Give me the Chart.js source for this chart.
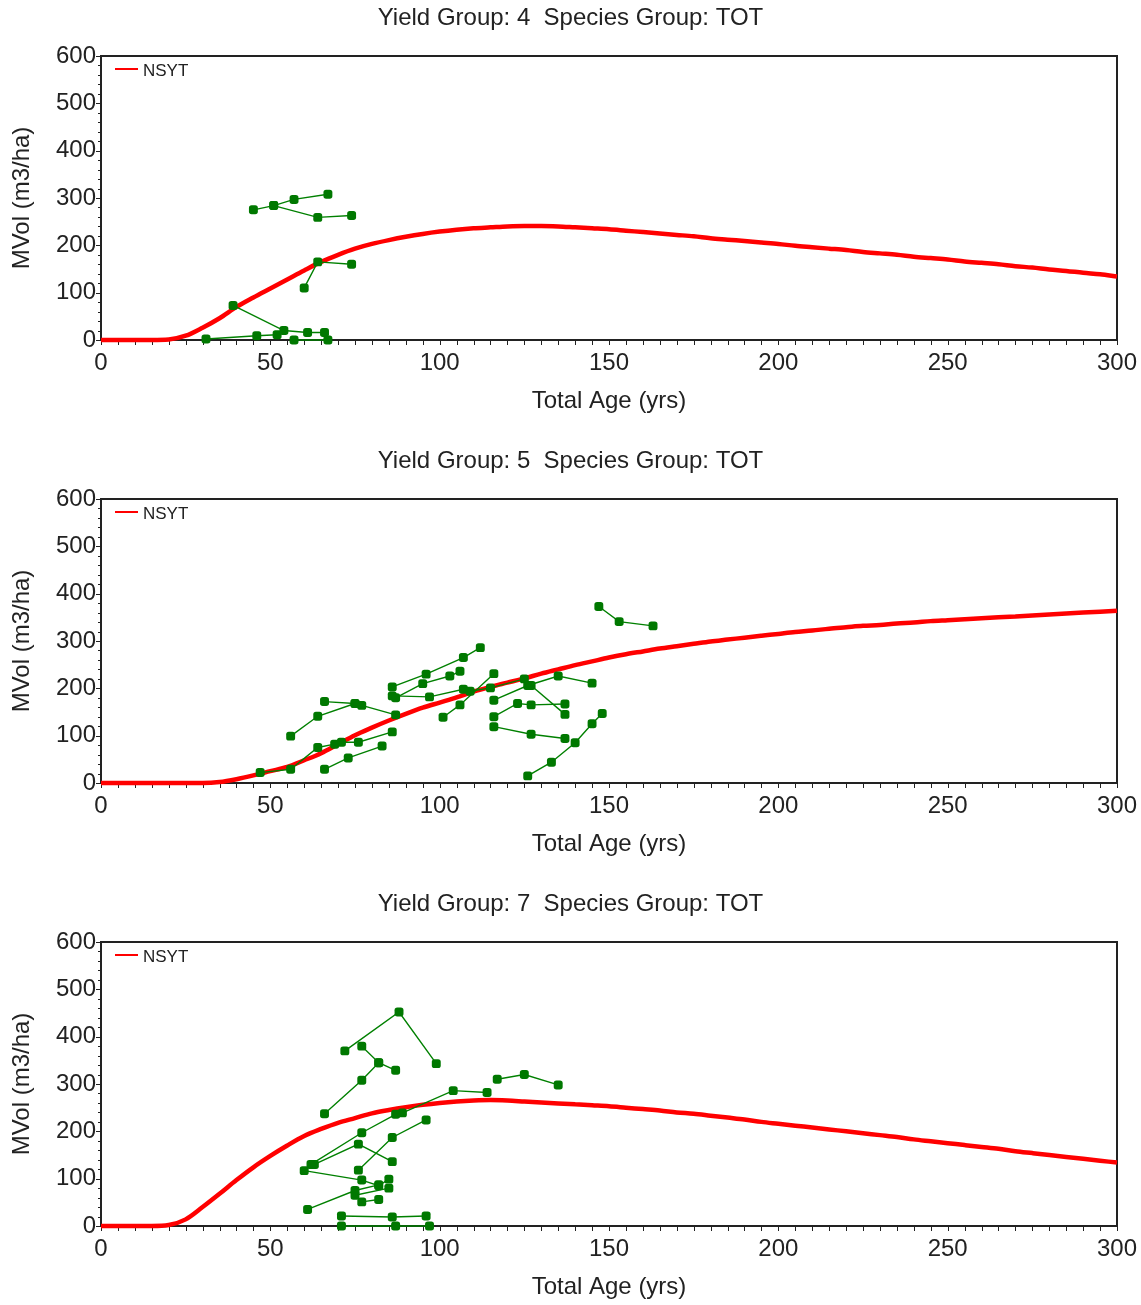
<!DOCTYPE html>
<html>
<head>
<meta charset="utf-8">
<script src="https://cdn.jsdelivr.net/npm/chart.js@4.4.1/dist/chart.umd.min.js"></script>
<style>
  html, body { margin: 0; padding: 0; background: #fff; overflow: hidden; }
  .panel { position: absolute; left: 0; width: 1141px; height: 443px; }
</style>
</head>
<body>
<div class="panel" style="top:0px"><canvas id="c4"></canvas></div>
<div class="panel" style="top:443px"><canvas id="c5"></canvas></div>
<div class="panel" style="top:886px"><canvas id="c7"></canvas></div>
<script>
// ---- Data ----
const groups = ['4', '5', '7'];
const speciesGroup = 'TOT';
const xTicks = [0, 50, 100, 150, 200, 250, 300];
const yTicks = [0, 100, 200, 300, 400, 500, 600];

// NSYT yield curve: total age (yrs) and MVol (m3/ha)
const ages = [0,5,10,15,20,25,30,35,40,45,50,55,60,65,70,75,80,85,90,95,100,105,110,115,120,125,130,135,140,145,150,155,160,165,170,175,180,185,190,195,200,205,210,215,220,225,230,235,240,245,250,255,260,265,270,275,280,285,290,295,300];
const nsyt4 = [0,0,0,0,1,9,26,46,70,90,109,128,147,165,180,193,203,211,218,224,229,233,236,238,240,241,241,240,238,236,234,231,228,225,222,219,215,212,209,206,203,199,196,193,190,186,183,180,176,173,170,166,163,160,156,153,149,146,142,139,134];
const nsyt5 = [0,0,0,0,0,0,0,2,8,16,25,34,48,63,82,101,117,132,146,159,170,181,193,203,212,221,231,240,249,257,265,272,278,284,289,294,299,303,307,311,315,319,322,326,329,332,334,337,339,342,344,346,348,350,352,354,356,358,360,362,364];
const nsyt7 = [0,0,0,0,2,14,40,68,97,124,148,170,190,205,218,228,238,245,251,256,260,263,265,266,265,263,261,259,257,255,253,250,247,244,240,237,233,229,225,220,216,212,208,204,200,196,192,188,183,179,175,171,167,163,158,154,150,146,142,138,134];

// Observed plot remeasurements [age, MVol]
const obs4 = [
  [[45,275],[51,284],[57,297],[67,308]],
  [[51,284],[64,259],[74,263]],
  [[60,110],[64,165],[74,160]],
  [[39,73],[54,20],[61,16],[66,16]],
  [[31,2],[46,9],[52,11]],
  [[57,0],[67,0]]
];
const obs5 = [
  [[56,99],[64,141],[75,168]],
  [[66,172],[75,168],[77,164],[87,144]],
  [[47,22],[56,29],[64,75],[69,82]],
  [[71,86],[76,86],[86,108]],
  [[66,29],[73,53],[83,78]],
  [[86,203],[96,230],[107,265],[112,286]],
  [[87,180],[95,210],[103,226],[106,236]],
  [[86,184],[97,182],[107,198],[109,194],[115,201],[125,220]],
  [[101,139],[106,165],[116,231]],
  [[116,175],[126,206],[135,226],[145,211]],
  [[127,206],[137,145]],
  [[116,140],[123,168],[127,165],[137,167]],
  [[116,119],[127,103],[137,94]],
  [[126,15],[133,44],[140,85],[145,125],[148,147]],
  [[147,373],[153,341],[163,332]]
];
const obs7 = [
  [[72,370],[88,452],[99,343]],
  [[77,380],[82,345],[87,329]],
  [[66,237],[77,308],[82,345]],
  [[62,130],[77,197],[87,236]],
  [[89,239],[104,286],[114,282]],
  [[117,310],[125,320],[135,298]],
  [[63,130],[76,173],[86,136]],
  [[76,118],[86,187],[96,224]],
  [[60,117],[77,97],[82,85],[85,99]],
  [[61,35],[75,75],[82,87]],
  [[75,65],[85,80]],
  [[77,51],[82,56]],
  [[71,21],[86,19],[96,21]],
  [[71,0],[87,0],[97,0]]
];

// ---- Rendering ----
const FONT = "'Liberation Sans', Arial, Helvetica, sans-serif";
const INK = '#222222';
Chart.defaults.font.family = FONT;

const decor = {
  id: 'decor',
  beforeDatasetsDraw(chart) {
    const { ctx, chartArea: a, scales: { x, y } } = chart;
    ctx.save();
    ctx.strokeStyle = INK;
    ctx.lineWidth = 2;
    ctx.strokeRect(a.left, a.top, a.right - a.left, a.bottom - a.top);
    ctx.lineWidth = 1;
    ctx.beginPath();
    for (let v = x.min; v <= x.max; v += 5) {
      const px = Math.round(x.getPixelForValue(v)) + 0.5;
      ctx.moveTo(px, a.bottom);
      ctx.lineTo(px, a.bottom + 5);
    }
    for (let v = y.min; v <= y.max; v += 20) {
      const py = Math.round(y.getPixelForValue(v)) + 0.5;
      const len = v % 100 === 0 ? 5 : 3;
      ctx.moveTo(a.left, py);
      ctx.lineTo(a.left - len, py);
    }
    ctx.stroke();
    ctx.restore();
  },
  afterDatasetsDraw(chart) {
    const { ctx, chartArea: a } = chart;
    const ds = chart.data.datasets[0];
    ctx.save();
    ctx.strokeStyle = ds.borderColor;
    ctx.lineWidth = 2;
    ctx.beginPath();
    ctx.moveTo(a.left + 14, a.top + 13);
    ctx.lineTo(a.left + 37, a.top + 13);
    ctx.stroke();
    ctx.fillStyle = INK;
    ctx.font = '17px ' + FONT;
    ctx.textBaseline = 'middle';
    ctx.fillText(ds.label, a.left + 42, a.top + 15);
    // chart title, centred on the full canvas width
    ctx.font = '24px ' + FONT;
    ctx.textAlign = 'center';
    ctx.fillText(chart.options.chartTitle, chart.width / 2, 18);
    ctx.restore();
  }
};

function makeChart(id, group, nsyt, obs) {
  const datasets = [{
    label: 'NSYT',
    data: ages.map((a, i) => ({ x: a, y: nsyt[i] })),
    borderColor: '#ff0000',
    backgroundColor: '#ff0000',
    borderWidth: 4.5,
    pointRadius: 0,
    cubicInterpolationMode: 'monotone',
    clip: false,
    order: 2
  }];
  obs.forEach((s, k) => datasets.push({
    label: 'Plot ' + (k + 1),
    data: s,
    borderColor: '#008000',
    backgroundColor: '#007800',
    borderWidth: 1.4,
    pointRadius: 5.2,
    pointStyle: 'rectRounded',
    pointBorderWidth: 0,
    clip: false,
    order: 1
  }));
  const tickFont = { family: FONT, size: 24, lineHeight: 1.2 };
  new Chart(document.getElementById(id), {
    type: 'line',
    data: { datasets },
    options: {
      chartTitle: 'Yield Group: ' + group + '  Species Group: ' + speciesGroup,
      responsive: true,
      maintainAspectRatio: false,
      animation: false,
      events: [],
      layout: { padding: { left: 0, right: 24, top: 56, bottom: 27.4 } },
      scales: {
        x: {
          type: 'linear', min: 0, max: 300,
          afterBuildTicks: s => { s.ticks = xTicks.map(v => ({ value: v })); },
          afterFit: s => { s.paddingLeft = 0; s.paddingRight = 0; },
          ticks: { padding: 9, color: INK, font: tickFont, maxRotation: 0, autoSkip: false },
          grid: { display: false, drawTicks: false, tickLength: 0 }, border: { display: false },
          title: { display: true, text: 'Total Age (yrs)', color: INK, font: tickFont, padding: { top: 0, bottom: 0 } }
        },
        y: {
          type: 'linear', min: 0, max: 600,
          afterBuildTicks: s => { s.ticks = yTicks.map(v => ({ value: v })); },
          afterFit: s => { s.width = 101; s.paddingTop = 0; s.paddingBottom = 0; },
          ticks: { padding: 5, color: INK, font: tickFont },
          grid: { display: false, drawTicks: false, tickLength: 0 }, border: { display: false },
          title: { display: true, text: 'MVol (m3/ha)', color: INK, font: tickFont, padding: { top: 8, bottom: 0 } }
        }
      },
      plugins: {
        legend: { display: false },
        tooltip: { enabled: false },
        title: { display: false }
      }
    },
    plugins: [decor]
  });
}

makeChart('c4', groups[0], nsyt4, obs4);
makeChart('c5', groups[1], nsyt5, obs5);
makeChart('c7', groups[2], nsyt7, obs7);
</script>
</body>
</html>
